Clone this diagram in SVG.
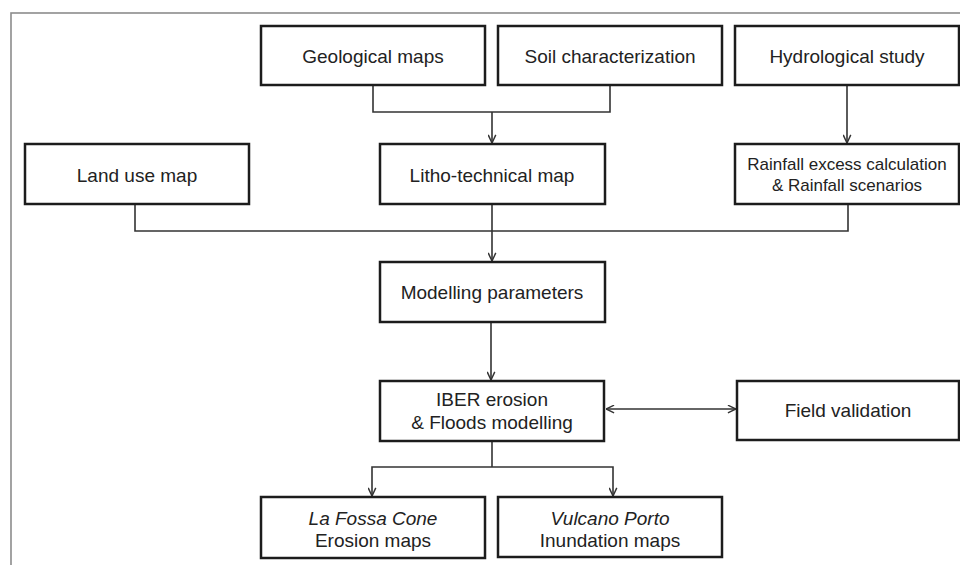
<svg xmlns="http://www.w3.org/2000/svg" width="960" height="565" viewBox="0 0 960 565">
  <style>
    .box { fill: #ffffff; stroke: #1c1c1c; stroke-width: 2.5; }
    .t { font-family: "Liberation Sans", Arial, sans-serif; font-size: 19px; fill: #222222; text-anchor: middle; }
    .ts { font-size: 17px; }
    .it { font-style: italic; }
    .conn { fill: none; stroke: #333333; stroke-width: 1.6; }
    .frame { fill: none; stroke: #8c8c8c; stroke-width: 1.6; }
  </style>
  <defs>
    <marker id="arr" viewBox="0 0 10 10" refX="10" refY="5" markerWidth="9" markerHeight="9" markerUnits="userSpaceOnUse" orient="auto-start-reverse">
      <path d="M1,0.8 L10,5 L1,9.2" fill="none" stroke="#333333" stroke-width="1.6"/>
    </marker>
  </defs>
  <rect width="960" height="565" fill="#ffffff"/>
  <rect class="frame" x="11" y="13" width="970" height="570"/>

  <g id="connectors">
    <path class="conn" d="M373,85 V112 H610 V85"/>
    <path class="conn" d="M492,112 V143" marker-end="url(#arr)"/>
    <path class="conn" d="M847,85 V143" marker-end="url(#arr)"/>
    <path class="conn" d="M135,204 V231 H848 V204"/>
    <path class="conn" d="M492,204 V261" marker-end="url(#arr)"/>
    <path class="conn" d="M491,322 V380" marker-end="url(#arr)"/>
    <path class="conn" d="M606,409 H736" marker-start="url(#arr)" marker-end="url(#arr)"/>
    <path class="conn" d="M492,441 V467"/>
    <path class="conn" d="M372,496 V467 H613 V496" marker-start="url(#arr)" marker-end="url(#arr)"/>
  </g>

  <g id="geological-maps">
    <rect class="box" x="261" y="26" width="224" height="59"/>
    <text class="t" x="373" y="62.5">Geological maps</text>
  </g>
  <g id="soil-characterization">
    <rect class="box" x="498" y="26" width="224" height="59"/>
    <text class="t" x="610" y="62.5">Soil characterization</text>
  </g>
  <g id="hydrological-study">
    <rect class="box" x="735" y="26" width="224" height="59"/>
    <text class="t" x="847" y="62.5">Hydrological study</text>
  </g>
  <g id="land-use-map">
    <rect class="box" x="25" y="144" width="224" height="60"/>
    <text class="t" x="137" y="182">Land use map</text>
  </g>
  <g id="litho-technical-map">
    <rect class="box" x="380" y="144" width="225" height="60"/>
    <text class="t" x="492" y="182">Litho-technical map</text>
  </g>
  <g id="rainfall">
    <rect class="box" x="735" y="144" width="224" height="60"/>
    <text class="t ts" x="847" y="170">Rainfall excess calculation</text>
    <text class="t ts" x="847" y="190.5">&amp; Rainfall scenarios</text>
  </g>
  <g id="modelling-parameters">
    <rect class="box" x="380" y="262" width="225" height="60"/>
    <text class="t" x="492" y="299">Modelling parameters</text>
  </g>
  <g id="iber">
    <rect class="box" x="380" y="381" width="224" height="60"/>
    <text class="t" x="492" y="405.5">IBER erosion</text>
    <text class="t" x="492" y="429">&amp; Floods modelling</text>
  </g>
  <g id="field-validation">
    <rect class="box" x="737" y="381" width="222" height="59"/>
    <text class="t" x="848" y="416.5">Field validation</text>
  </g>
  <g id="la-fossa">
    <rect class="box" x="261" y="497" width="224" height="61"/>
    <text class="t it" x="373" y="525">La Fossa Cone</text>
    <text class="t" x="373" y="546.5">Erosion maps</text>
  </g>
  <g id="vulcano-porto">
    <rect class="box" x="498" y="497" width="224" height="60"/>
    <text class="t it" x="610" y="525">Vulcano Porto</text>
    <text class="t" x="610" y="546.5">Inundation maps</text>
  </g>
</svg>
